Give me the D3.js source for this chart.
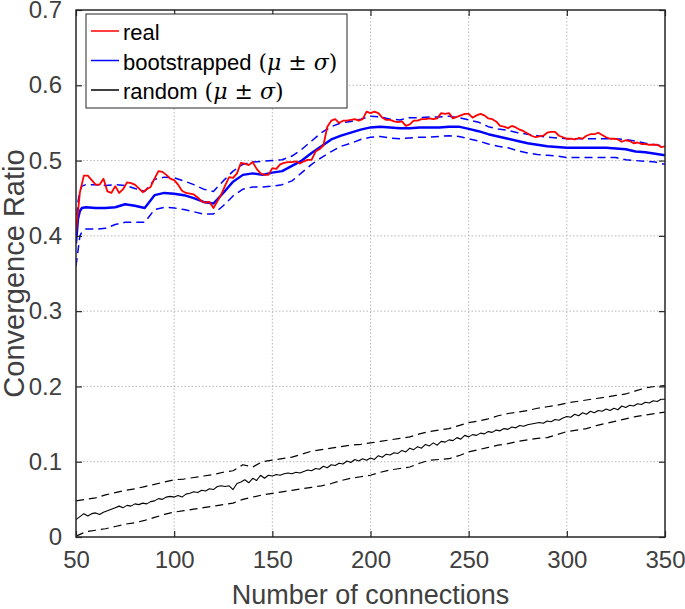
<!DOCTYPE html>
<html>
<head>
<meta charset="utf-8">
<script src="https://cdn.jsdelivr.net/npm/d3@7"></script>
<style>
  body { margin: 0; background: #fff; }
  svg { display: block; }
</style>
</head>
<body>
<svg id="chart" width="685" height="609"></svg>
<script>
// ticks
const xTicks = [50, 100, 150, 200, 250, 300, 350];
const yTicks = [0, 0.1, 0.2, 0.3, 0.4, 0.5, 0.6, 0.7];

// real convergence ratio, every 2 connections from 50 to 350
const realX = d3.range(50, 351, 2);
const realY = [
  0.405, 0.458, 0.480, 0.480, 0.474, 0.468, 0.468, 0.476, 0.459, 0.457,
  0.466, 0.457, 0.462, 0.471, 0.470, 0.468, 0.463, 0.458, 0.462, 0.465,
  0.476, 0.486, 0.485, 0.481, 0.476, 0.474, 0.468, 0.460, 0.457, 0.456,
  0.455, 0.451, 0.446, 0.444, 0.445, 0.437, 0.446, 0.455, 0.467, 0.478,
  0.477, 0.483, 0.497, 0.496, 0.494, 0.498, 0.489, 0.483, 0.481, 0.481,
  0.490, 0.489, 0.495, 0.497, 0.498, 0.498, 0.499, 0.496, 0.499, 0.501,
  0.501, 0.512, 0.515, 0.520, 0.545, 0.553, 0.555, 0.550, 0.553, 0.553,
  0.554, 0.555, 0.553, 0.555, 0.565, 0.563, 0.565, 0.563, 0.557, 0.554,
  0.554, 0.552, 0.551, 0.552, 0.546, 0.548, 0.553, 0.553, 0.555, 0.555,
  0.556, 0.555, 0.556, 0.563, 0.562, 0.563, 0.556, 0.558, 0.560, 0.562,
  0.562, 0.557, 0.560, 0.562, 0.560, 0.556, 0.555, 0.552, 0.546, 0.545,
  0.543, 0.546, 0.544, 0.541, 0.539, 0.536, 0.533, 0.531, 0.532, 0.533,
  0.537, 0.538, 0.538, 0.533, 0.531, 0.529, 0.529, 0.528, 0.530, 0.529,
  0.533, 0.535, 0.535, 0.537, 0.534, 0.531, 0.529, 0.529, 0.528, 0.525,
  0.527, 0.526, 0.523, 0.524, 0.522, 0.522, 0.521, 0.521, 0.521, 0.518,
  0.519
];

// bootstrapped mean and mean +/- sigma
const bootX = [50, 51, 52, 53].concat(d3.range(55, 351, 5));
const bootMean = [
  0.390, 0.422, 0.433, 0.437,
  0.438, 0.437, 0.437, 0.438, 0.442, 0.440, 0.437, 0.454, 0.457, 0.456,
  0.454, 0.450, 0.445, 0.443, 0.457, 0.472, 0.481, 0.483, 0.481, 0.484,
  0.486, 0.493, 0.500, 0.510, 0.519, 0.528, 0.533, 0.537, 0.541, 0.544,
  0.545, 0.544, 0.543, 0.543, 0.544, 0.544, 0.544, 0.545, 0.545, 0.542,
  0.539, 0.535, 0.532, 0.529, 0.526, 0.523, 0.521, 0.519, 0.518, 0.517,
  0.517, 0.517, 0.517, 0.517, 0.516, 0.515, 0.512, 0.511, 0.509, 0.507
];
const bootUpper = [
  0.410, 0.445, 0.460, 0.466,
  0.468, 0.468, 0.467, 0.468, 0.467, 0.463, 0.459, 0.475, 0.478, 0.477,
  0.473, 0.468, 0.462, 0.459, 0.473, 0.486, 0.495, 0.498, 0.499, 0.500,
  0.501, 0.506, 0.515, 0.526, 0.537, 0.545, 0.550, 0.552, 0.555, 0.559,
  0.558, 0.555, 0.554, 0.557, 0.557, 0.558, 0.558, 0.559, 0.557, 0.554,
  0.551, 0.545, 0.542, 0.540, 0.537, 0.535, 0.533, 0.531, 0.530, 0.529,
  0.529, 0.529, 0.529, 0.529, 0.529, 0.528, 0.526, 0.523, 0.521, 0.519
];
const bootLower = [
  0.360, 0.380, 0.400, 0.405,
  0.409, 0.409, 0.410, 0.415, 0.418, 0.418, 0.418, 0.435, 0.438, 0.437,
  0.435, 0.432, 0.429, 0.429, 0.440, 0.453, 0.462, 0.465, 0.465, 0.466,
  0.468, 0.473, 0.484, 0.495, 0.504, 0.512, 0.519, 0.523, 0.528, 0.531,
  0.532, 0.530, 0.529, 0.530, 0.531, 0.531, 0.532, 0.533, 0.532, 0.529,
  0.526, 0.522, 0.519, 0.517, 0.513, 0.510, 0.508, 0.507, 0.506, 0.504,
  0.504, 0.504, 0.504, 0.504, 0.504, 0.501, 0.500, 0.499, 0.498, 0.495
];

// random mean (every 2) and mean +/- sigma (every 5)
const randX = d3.range(50, 351, 2);
const randMean = [
  0.023, 0.027, 0.031, 0.028, 0.031, 0.032, 0.030, 0.033, 0.035, 0.037,
  0.039, 0.041, 0.039, 0.042, 0.041, 0.044, 0.043, 0.045, 0.044, 0.047,
  0.048, 0.051, 0.050, 0.053, 0.054, 0.053, 0.055, 0.053, 0.057, 0.058,
  0.060, 0.059, 0.062, 0.061, 0.064, 0.063, 0.067, 0.068, 0.067, 0.068,
  0.063, 0.071, 0.073, 0.076, 0.072, 0.078, 0.075, 0.082, 0.078, 0.082,
  0.081, 0.083, 0.082, 0.084, 0.085, 0.084, 0.086, 0.085, 0.087, 0.089,
  0.088, 0.091, 0.090, 0.094, 0.092, 0.096, 0.095, 0.098, 0.097, 0.101,
  0.099, 0.103, 0.101, 0.104, 0.102, 0.105, 0.103, 0.108, 0.106, 0.110,
  0.109, 0.112, 0.111, 0.115, 0.113, 0.118, 0.116, 0.120, 0.118, 0.123,
  0.121, 0.125, 0.122, 0.127, 0.126, 0.129, 0.128, 0.132, 0.130, 0.135,
  0.133, 0.136, 0.135, 0.138, 0.137, 0.140, 0.139, 0.142, 0.141, 0.144,
  0.143, 0.146, 0.145, 0.148, 0.147, 0.149, 0.150, 0.151, 0.152, 0.151,
  0.154, 0.153, 0.156, 0.155, 0.158, 0.160, 0.159, 0.163, 0.161, 0.165,
  0.163, 0.167, 0.165, 0.168, 0.167, 0.170, 0.168, 0.171, 0.169, 0.174,
  0.172, 0.175, 0.174, 0.177, 0.176, 0.179, 0.178, 0.181, 0.180, 0.183,
  0.183
];
const randBandX = d3.range(50, 351, 5);
const randUpper = [
  0.048, 0.050, 0.052, 0.056, 0.059, 0.062, 0.064, 0.067, 0.070, 0.073,
  0.076, 0.077, 0.079, 0.081, 0.083, 0.086, 0.088, 0.096, 0.093, 0.100,
  0.102, 0.104, 0.106, 0.110, 0.114, 0.116, 0.118, 0.120, 0.122, 0.123,
  0.125, 0.127, 0.129, 0.131, 0.133, 0.137, 0.140, 0.142, 0.144, 0.148,
  0.152, 0.154, 0.157, 0.161, 0.164, 0.166, 0.168, 0.171, 0.173, 0.175,
  0.178, 0.180, 0.182, 0.184, 0.186, 0.188, 0.190, 0.194, 0.198, 0.200,
  0.201
];
const randLower = [
  0.001, 0.007, 0.009, 0.011, 0.014, 0.017, 0.019, 0.022, 0.026, 0.030,
  0.033, 0.035, 0.037, 0.039, 0.041, 0.043, 0.045, 0.050, 0.053, 0.056,
  0.058, 0.060, 0.062, 0.064, 0.066, 0.068, 0.071, 0.075, 0.078, 0.080,
  0.082, 0.086, 0.089, 0.091, 0.093, 0.098, 0.102, 0.103, 0.104, 0.108,
  0.113, 0.116, 0.119, 0.122, 0.124, 0.127, 0.129, 0.131, 0.132, 0.136,
  0.140, 0.142, 0.144, 0.148, 0.151, 0.154, 0.157, 0.160, 0.162, 0.164,
  0.166
];

const legendItems = ["real", "bootstrapped", "random"];
const legendColors = ["#ff0000", "#0000ff", "#000000"];

const textColor = "#404040";
const axisColor = "#262626";
const font = "'Liberation Sans', Arial, Helvetica, sans-serif";

const margin = {left: 76, right: 20, top: 10, bottom: 72};
const width = 685, height = 609;
const svg = d3.select("#chart");

const x = d3.scaleLinear().domain([50, 350]).range([margin.left, width - margin.right]);
const y = d3.scaleLinear().domain([0, 0.7]).range([height - margin.bottom, margin.top]);

// grid
svg.append("g").selectAll("line")
  .data(xTicks.slice(1, -1))
  .enter().append("line")
    .attr("x1", d => x(d)).attr("x2", d => x(d))
    .attr("y1", y(0)).attr("y2", y(0.7))
    .style("stroke", "#b8b8b8")
    .style("stroke-width", 1)
    .style("stroke-dasharray", "1.5,2");
svg.append("g").selectAll("line")
  .data(yTicks.slice(1, -1))
  .enter().append("line")
    .attr("x1", x(50)).attr("x2", x(350))
    .attr("y1", d => y(d)).attr("y2", d => y(d))
    .style("stroke", "#b8b8b8")
    .style("stroke-width", 1)
    .style("stroke-dasharray", "1.5,2");

svg.append("clipPath").attr("id", "plotClip")
  .append("rect")
    .attr("x", x(50)).attr("y", y(0.7))
    .attr("width", x(350) - x(50)).attr("height", y(0) - y(0.7));

const plot = svg.append("g").attr("clip-path", "url(#plotClip)");

function drawLine(xs, ys, color, w, dash) {
  let line = d3.line()
    .x((d, i) => x(xs[i]))
    .y(d => y(d));
  plot.append("path")
    .datum(ys)
    .attr("d", line)
    .style("fill", "none")
    .style("stroke", color)
    .style("stroke-width", w)
    .style("stroke-linejoin", "round")
    .style("stroke-dasharray", dash || null);
}

drawLine(randBandX, randUpper, "#000", 1.2, "8,5");
drawLine(randBandX, randLower, "#000", 1.2, "8,5");
drawLine(randX, randMean, "#000", 1.1);
drawLine(bootX, bootUpper, "#0000ff", 1.5, "8,5");
drawLine(bootX, bootLower, "#0000ff", 1.5, "8,5");
drawLine(bootX, bootMean, "#0000ff", 2.4);
drawLine(realX, realY, "#ff0000", 1.8);

// axes
svg.append("g")
  .attr("transform", "translate(0," + y(0) + ")")
  .call(d3.axisBottom(x).tickValues(xTicks).tickSizeInner(-6).tickSizeOuter(0).tickPadding(14))
  .call(g => g.select(".domain").remove())
  .call(g => g.selectAll("line").style("stroke", axisColor).style("stroke-width", 1.2))
  .call(g => g.selectAll("text")
    .style("font-family", font).style("font-size", "24px").style("fill", textColor));
svg.append("g")
  .attr("transform", "translate(0," + y(0.7) + ")")
  .call(d3.axisTop(x).tickValues(xTicks).tickSizeInner(-6).tickSizeOuter(0).tickFormat(""))
  .call(g => g.select(".domain").remove())
  .call(g => g.selectAll("line").style("stroke", axisColor).style("stroke-width", 1.2));
svg.append("g")
  .attr("transform", "translate(" + x(50) + ",0)")
  .call(d3.axisLeft(y).tickValues(yTicks).tickSizeInner(-6).tickSizeOuter(0).tickPadding(14)
    .tickFormat(d => d === 0 ? "0" : d3.format(".1f")(d)))
  .call(g => g.select(".domain").remove())
  .call(g => g.selectAll("line").style("stroke", axisColor).style("stroke-width", 1.2))
  .call(g => g.selectAll("text")
    .style("font-family", font).style("font-size", "24px").style("fill", textColor));
svg.append("g")
  .attr("transform", "translate(" + x(350) + ",0)")
  .call(d3.axisRight(y).tickValues(yTicks).tickSizeInner(-6).tickSizeOuter(0).tickFormat(""))
  .call(g => g.select(".domain").remove())
  .call(g => g.selectAll("line").style("stroke", axisColor).style("stroke-width", 1.2));

svg.append("rect")
  .attr("x", x(50)).attr("y", y(0.7))
  .attr("width", x(350) - x(50)).attr("height", y(0) - y(0.7))
  .style("fill", "none")
  .style("stroke", axisColor)
  .style("stroke-width", 1.5);

// axis titles
svg.append("text")
  .attr("x", (x(50) + x(350)) / 2)
  .attr("y", 604)
  .text("Number of connections")
  .style("text-anchor", "middle")
  .style("font-family", font)
  .style("font-size", "27px")
  .style("fill", textColor);
svg.append("text")
  .attr("transform", "translate(24," + (y(0) + y(0.7)) / 2 + ") rotate(-90)")
  .text("Convergence Ratio")
  .style("text-anchor", "middle")
  .style("font-family", font)
  .style("font-size", "29px")
  .style("fill", textColor);

// legend
const legend = svg.append("g");
legend.append("rect")
  .attr("x", 86).attr("y", 14)
  .attr("width", 261).attr("height", 94)
  .style("fill", "#fff")
  .style("stroke", axisColor)
  .style("stroke-width", 1);

legendItems.forEach((name, i) => {
  let ly = 31 + i * 29.5;
  legend.append("line")
    .attr("x1", 91).attr("x2", 119)
    .attr("y1", ly).attr("y2", ly)
    .style("stroke", legendColors[i])
    .style("stroke-width", 1.5);
  let t = legend.append("text")
    .attr("x", 123).attr("y", ly + 9)
    .style("font-family", font)
    .style("font-size", "22px")
    .style("fill", "#000");
  t.append("tspan").text(name);
  if (i > 0) {
    let m = t.append("tspan").style("font-family", "'DejaVu Serif', 'Liberation Serif', serif");
    m.append("tspan").text(" (");
    m.append("tspan").style("font-style", "italic").text("μ");
    m.append("tspan").text(" ± ");
    m.append("tspan").style("font-style", "italic").text("σ");
    m.append("tspan").text(")");
  }
});
</script>
</body>
</html>
